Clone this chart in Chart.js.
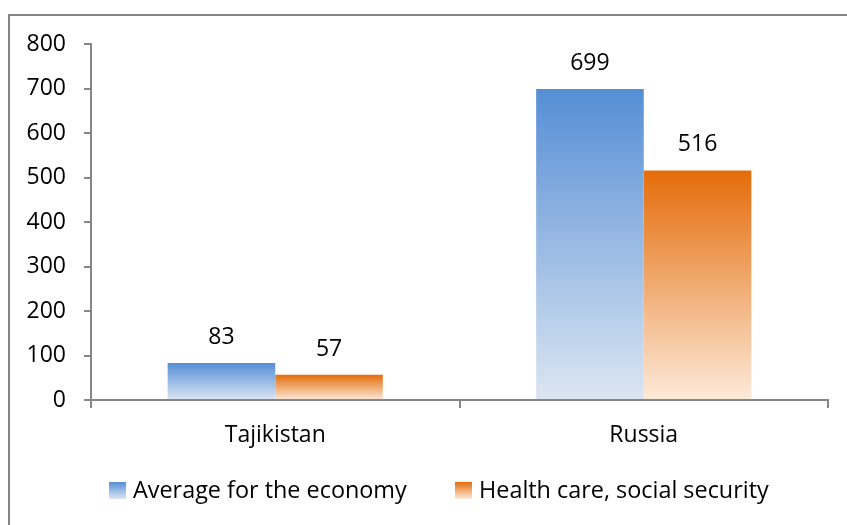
<!DOCTYPE html>
<html>
<head>
<meta charset="utf-8">
<script src="https://cdn.jsdelivr.net/npm/chart.js@4/dist/chart.umd.min.js"></script>
<style>
  html, body { margin: 0; padding: 0; background: #fff; }
  #wrap { width: 847px; height: 525px; position: relative; }
</style>
</head>
<body>
<div id="wrap"><canvas id="myChart" width="847" height="525"></canvas></div>
<script>
// data
var pays = ['Tajikistan', 'Russia'];
var moyenneEconomie = [83, 699];
var santeSocial = [57, 516];
var nomsSeries = ['Average for the economy', 'Health care, social security'];
var ticksY = [0, 100, 200, 300, 400, 500, 600, 700, 800];

var police = "'Open Sans', sans-serif";
var gris = '#868686';

// couleurs haut / bas du degrade de chaque serie
var couleurs = [
    { haut: '#558ED5', bas: '#DCE6F2' },
    { haut: '#E46C0A', bas: '#FDEADA' }
];

// degrade vertical propre a chaque barre (du haut de la barre vers l'axe)
function degrade(ctx, serie) {
    var chart = ctx.chart;
    if (!chart.chartArea || ctx.type !== 'data') return couleurs[serie].haut;
    var y = chart.scales.y;
    var haut = y.getPixelForValue(ctx.raw);
    var bas = y.getPixelForValue(0);
    if (bas - haut < 1) return couleurs[serie].haut;
    var g = chart.ctx.createLinearGradient(0, haut, 0, bas);
    g.addColorStop(0, couleurs[serie].haut);
    g.addColorStop(1, couleurs[serie].bas);
    return g;
}

// cadre gris autour du graphique
var cadre = {
    id: 'cadre',
    beforeDraw: function (chart) {
        var c = chart.ctx;
        c.save();
        c.fillStyle = '#fff';
        c.fillRect(0, 0, chart.width, chart.height);
        c.strokeStyle = gris;
        c.lineWidth = 2;
        c.strokeRect(9, 15, 900, 600);
        c.restore();
    }
};

// valeurs au-dessus des barres
var etiquettes = {
    id: 'etiquettes',
    afterDatasetsDraw: function (chart) {
        var c = chart.ctx;
        c.save();
        c.font = '23px ' + police;
        c.fillStyle = '#000';
        c.textAlign = 'center';
        c.textBaseline = 'alphabetic';
        chart.data.datasets.forEach(function (ds, i) {
            chart.getDatasetMeta(i).data.forEach(function (barre, j) {
                c.fillText(String(ds.data[j]), barre.x, barre.y - 19);
            });
        });
        c.restore();
    }
};

// legende en bas avec petits carres en degrade
var legende = {
    id: 'legende',
    afterDraw: function (chart) {
        var c = chart.ctx;
        var positions = [109, 455];
        c.save();
        c.font = '23.4px ' + police;
        c.fillStyle = '#000';
        c.textBaseline = 'alphabetic';
        nomsSeries.forEach(function (nom, i) {
            var x = positions[i], y = 482, t = 17;
            var g = c.createLinearGradient(0, y, 0, y + t);
            g.addColorStop(0, couleurs[i].haut);
            g.addColorStop(1, couleurs[i].bas);
            c.fillStyle = g;
            c.fillRect(x, y, t, t);
            c.fillStyle = '#000';
            c.fillText(nom, x + 24, 498);
        });
        c.restore();
    }
};

var myChart = document.getElementById('myChart').getContext('2d');

var dataChart = new Chart(myChart, {
    type: 'bar',
    data: {
        labels: pays,
        datasets: [{
            label: nomsSeries[0],
            data: moyenneEconomie,
            backgroundColor: function (ctx) { return degrade(ctx, 0); },
            borderWidth: 0
        }, {
            label: nomsSeries[1],
            data: santeSocial,
            backgroundColor: function (ctx) { return degrade(ctx, 1); },
            borderWidth: 0
        }]
    },
    options: {
        responsive: false,
        animation: false,
        devicePixelRatio: 1,
        layout: { padding: { top: 44, right: 19, left: 0, bottom: 0 } },
        datasets: {
            bar: { categoryPercentage: 0.584, barPercentage: 1 }
        },
        plugins: {
            legend: { display: false },
            tooltip: { enabled: false }
        },
        scales: {
            x: {
                grid: {
                    drawOnChartArea: false,
                    drawTicks: true,
                    tickLength: 8,
                    color: gris,
                    lineWidth: 2
                },
                border: { color: gris, width: 2 },
                ticks: {
                    color: '#000',
                    padding: 14,
                    font: { family: police, size: 23 }
                },
                afterFit: function (scale) { scale.height = 125; }
            },
            y: {
                min: 0,
                max: 800,
                afterBuildTicks: function (scale) {
                    scale.ticks = ticksY.map(function (v) { return { value: v }; });
                },
                grid: {
                    drawOnChartArea: false,
                    drawTicks: true,
                    tickLength: 7,
                    color: gris,
                    lineWidth: 2
                },
                border: { color: gris, width: 2 },
                ticks: {
                    color: '#000',
                    padding: 18,
                    font: { family: police, size: 23 }
                },
                afterFit: function (scale) { scale.width = 91; }
            }
        }
    },
    plugins: [cadre, etiquettes, legende]
});
</script>
</body>
</html>
